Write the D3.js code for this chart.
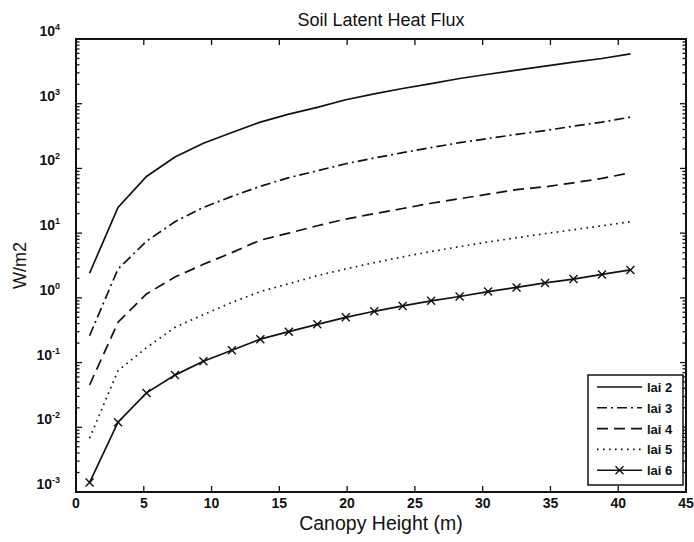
<!DOCTYPE html>
<html>
<head>
<meta charset="utf-8">
<script src="https://cdn.jsdelivr.net/npm/d3@7"></script>
<style>
  body { margin: 0; background: #fff; }
  text { fill: #111; }
</style>
</head>
<body>
<svg id="chart" width="694" height="542"></svg>
<script>
// Canopy heights (m) at which the flux was evaluated
const heights = [1, 3.1, 5.2, 7.3, 9.4, 11.5, 13.6, 15.7, 17.8, 19.9,
                 22, 24.1, 26.2, 28.3, 30.4, 32.5, 34.6, 36.7, 38.8, 40.9];

// Soil latent heat flux (W/m2) for each leaf area index
const lai2 = [2.4, 25, 75, 150, 245, 360, 520, 690, 880, 1150,
              1420, 1720, 2050, 2450, 2850, 3300, 3800, 4400, 5000, 5900];
const lai3 = [0.26, 2.8, 7.5, 15, 25, 37, 53, 72, 92, 118,
              145, 175, 210, 250, 290, 335, 385, 450, 520, 620];
const lai4 = [0.045, 0.42, 1.15, 2.1, 3.3, 5.0, 7.8, 10, 13, 16.5,
              20, 24, 29, 34, 40, 47, 52, 60, 70, 86];
const lai5 = [0.0068, 0.075, 0.17, 0.35, 0.55, 0.85, 1.25, 1.65, 2.2, 2.8,
              3.5, 4.3, 5.2, 6.2, 7.3, 8.5, 9.8, 11.3, 13, 15];
const lai6 = [0.0014, 0.012, 0.034, 0.064, 0.105, 0.155, 0.23, 0.3, 0.39, 0.5,
              0.62, 0.75, 0.9, 1.05, 1.25, 1.45, 1.7, 1.95, 2.3, 2.7];

const seriesNames = ["lai 2", "lai 3", "lai 4", "lai 5", "lai 6"];
const seriesValues = [lai2, lai3, lai4, lai5, lai6];

// Axis ticks
const xTicks = [0, 5, 10, 15, 20, 25, 30, 35, 40, 45];
const yExponents = [-3, -2, -1, 0, 1, 2, 3, 4];

const titleText = "Soil Latent Heat Flux";
const xLabelText = "Canopy Height (m)";
const yLabelText = "W/m2";

// Line styles per series
const styles = [
  { dash: null },
  { dash: "10,4,2,4" },
  { dash: "11,6" },
  { dash: "1.6,4.4" },
  { dash: null, marker: true }
];

const svg = d3.select("#chart");
const ink = "#111";

const plot = { left: 76, right: 686, top: 39, bottom: 492 };

const x = d3.scaleLinear().domain([0, 45]).range([plot.left, plot.right]);
const y = d3.scaleLog().domain([1e-3, 1e4]).range([plot.bottom, plot.top]);

// Minor log ticks (2..9 in each decade)
const minorY = [];
for (let e = -3; e < 4; e++) {
  for (let m = 2; m <= 9; m++) minorY.push(m * Math.pow(10, e));
}

const axes = svg.append("g").attr("stroke", ink).attr("fill", "none");

// Tick marks pointing inward on all four sides
const tickG = axes.append("g").attr("stroke-width", 1.3);
xTicks.forEach(t => {
  tickG.append("line").attr("x1", x(t)).attr("x2", x(t))
    .attr("y1", plot.bottom).attr("y2", plot.bottom - 6);
  tickG.append("line").attr("x1", x(t)).attr("x2", x(t))
    .attr("y1", plot.top).attr("y2", plot.top + 6);
});
yExponents.forEach(e => {
  const v = Math.pow(10, e);
  tickG.append("line").attr("x1", plot.left).attr("x2", plot.left + 6)
    .attr("y1", y(v)).attr("y2", y(v));
  tickG.append("line").attr("x1", plot.right).attr("x2", plot.right - 6)
    .attr("y1", y(v)).attr("y2", y(v));
});
minorY.forEach(v => {
  tickG.append("line").attr("x1", plot.left).attr("x2", plot.left + 3.5)
    .attr("y1", y(v)).attr("y2", y(v));
  tickG.append("line").attr("x1", plot.right).attr("x2", plot.right - 3.5)
    .attr("y1", y(v)).attr("y2", y(v));
});

// Axes box
axes.append("rect")
  .attr("x", plot.left).attr("y", plot.top)
  .attr("width", plot.right - plot.left).attr("height", plot.bottom - plot.top)
  .attr("stroke-width", 2);

// X tick labels
const tickFont = "'Liberation Sans Narrow', 'Liberation Sans', Arial, sans-serif";
svg.append("g").selectAll("text").data(xTicks).join("text")
  .attr("x", d => x(d)).attr("y", plot.bottom + 16)
  .attr("text-anchor", "middle")
  .attr("font-family", tickFont).attr("font-weight", "bold").attr("font-size", 14)
  .text(d => d);

// Y tick labels as 10 with superscript exponent
const yl = svg.append("g").selectAll("text").data(yExponents).join("text")
  .attr("x", 60).attr("y", d => y(Math.pow(10, d)) - 3)
  .attr("text-anchor", "end")
  .attr("font-family", tickFont).attr("font-weight", "bold").attr("font-size", 14);
yl.append("tspan").text("10");
yl.append("tspan").attr("dy", -6).attr("font-size", 9).text(d => d);

// Title and axis labels
const labelFont = "'Liberation Sans', Arial, sans-serif";
svg.append("text").attr("x", (plot.left + plot.right) / 2).attr("y", 26)
  .attr("text-anchor", "middle").attr("font-family", labelFont).attr("font-size", 18)
  .text(titleText);
svg.append("text").attr("x", (plot.left + plot.right) / 2).attr("y", 530)
  .attr("text-anchor", "middle").attr("font-family", labelFont).attr("font-size", 19.5)
  .text(xLabelText);
svg.append("text")
  .attr("transform", `translate(26, ${(plot.top + plot.bottom) / 2}) rotate(-90)`)
  .attr("text-anchor", "middle").attr("font-family", labelFont).attr("font-size", 18)
  .text(yLabelText);

// Series lines
const line = d3.line().x(d => x(d[0])).y(d => y(d[1]));
const linesG = svg.append("g");
seriesValues.forEach((vals, i) => {
  const pts = heights.map((h, k) => [h, vals[k]]);
  linesG.append("path").datum(pts)
    .attr("d", line)
    .attr("fill", "none").attr("stroke", ink).attr("stroke-width", 1.7)
    .attr("stroke-dasharray", styles[i].dash);
  if (styles[i].marker) {
    const s = 4;
    linesG.append("g").selectAll("path").data(pts).join("path")
      .attr("d", d => {
        const cx = x(d[0]), cy = y(d[1]);
        return `M${cx - s},${cy - s}L${cx + s},${cy + s}M${cx - s},${cy + s}L${cx + s},${cy - s}`;
      })
      .attr("stroke", ink).attr("stroke-width", 1.4);
  }
});

// Legend
const leg = { x: 588, y: 375, w: 95, h: 110 };
const legG = svg.append("g");
legG.append("rect").attr("x", leg.x).attr("y", leg.y).attr("width", leg.w).attr("height", leg.h)
  .attr("fill", "#fff").attr("stroke", ink).attr("stroke-width", 1.5);
seriesNames.forEach((name, i) => {
  const cy = leg.y + 12 + i * 20.8;
  legG.append("line").attr("x1", 597).attr("x2", 642).attr("y1", cy).attr("y2", cy)
    .attr("stroke", ink).attr("stroke-width", 1.6)
    .attr("stroke-dasharray", styles[i].dash);
  if (styles[i].marker) {
    const cx = 619.5, s = 4;
    legG.append("path")
      .attr("d", `M${cx - s},${cy - s}L${cx + s},${cy + s}M${cx - s},${cy + s}L${cx + s},${cy - s}`)
      .attr("stroke", ink).attr("stroke-width", 1.4);
  }
  legG.append("text").attr("x", 647).attr("y", cy + 5)
    .attr("font-family", tickFont).attr("font-weight", "bold").attr("font-size", 13)
    .text(name);
});
</script>
</body>
</html>
